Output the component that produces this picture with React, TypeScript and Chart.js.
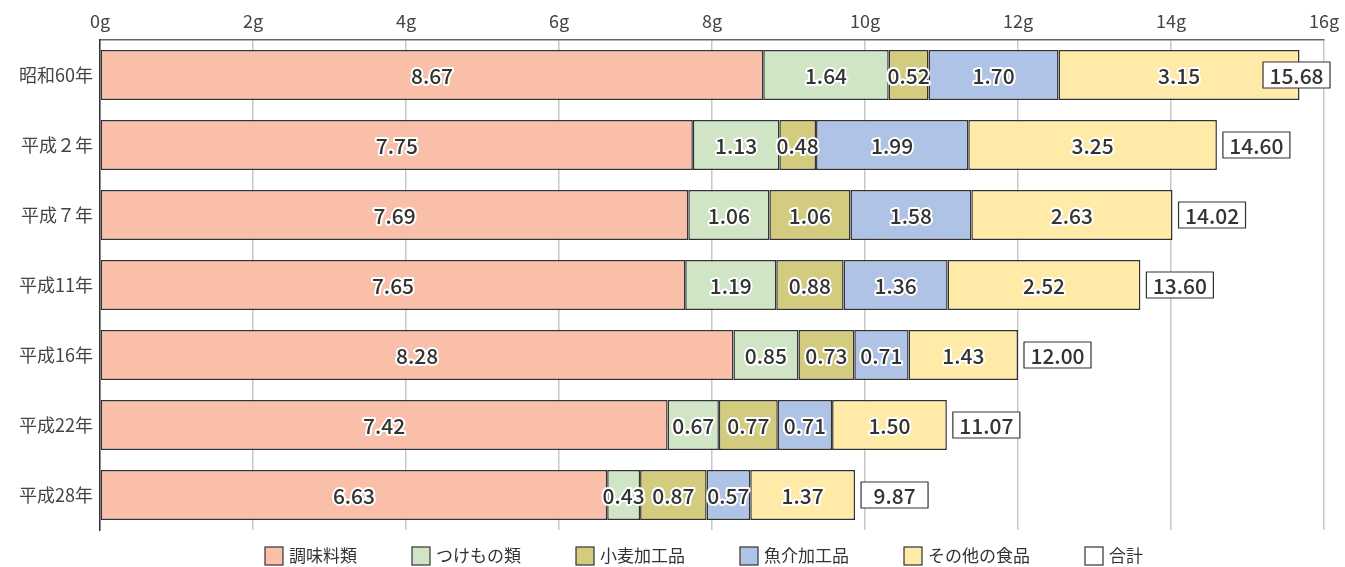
import React, { useEffect, useRef } from "react";
import { Chart, registerables } from "chart.js";

Chart.register(...registerables);

const categories = ["昭和60年", "平成２年", "平成７年", "平成11年", "平成16年", "平成22年", "平成28年"];
const seriesNames = ["調味料類", "つけもの類", "小麦加工品", "魚介加工品", "その他の食品"];
const seasoning = [8.67, 7.75, 7.69, 7.65, 8.28, 7.42, 6.63];
const pickles = [1.64, 1.13, 1.06, 1.19, 0.85, 0.67, 0.43];
const wheat = [0.52, 0.48, 1.06, 0.88, 0.73, 0.77, 0.87];
const seafood = [1.7, 1.99, 1.58, 1.36, 0.71, 0.71, 0.57];
const others = [3.15, 3.25, 2.63, 2.52, 1.43, 1.5, 1.37];
const totals = [15.68, 14.6, 14.02, 13.6, 12.0, 11.07, 9.87];
const totalName = "合計";
const xTicks = [0, 2, 4, 6, 8, 10, 12, 14, 16];

const colors = ["#F9BFA8", "#CFE5C5", "#D3CC7F", "#AEC3E5", "#FFEAA8"];
const FONT = "'Noto Sans CJK JP', 'Noto Sans', sans-serif";
const TEXT = "#333333";

const labelPlugin = {
  id: "valueLabels",
  afterDatasetsDraw(chart: any) {
    const ctx = chart.ctx;
    ctx.save();
    ctx.font = `500 21px ${FONT}`;
    ctx.textAlign = "center";
    ctx.textBaseline = "middle";
    ctx.lineJoin = "round";
    chart.data.datasets.forEach((ds: any, di: number) => {
      const meta = chart.getDatasetMeta(di);
      meta.data.forEach((bar: any, i: number) => {
        const v = ds.data[i];
        if (v == null) return;
        const p = bar.getProps(["x", "y", "base"], true);
        const cx = (p.x + p.base) / 2;
        const txt = Number(v).toFixed(2);
        ctx.lineWidth = 4;
        ctx.strokeStyle = "#ffffff";
        ctx.strokeText(txt, cx, p.y + 1);
        ctx.fillStyle = TEXT;
        ctx.fillText(txt, cx, p.y + 1);
      });
    });
    // totals
    const xs = chart.scales.x;
    const ys = chart.scales.y;
    totals.forEach((t, i) => {
      const txt = t.toFixed(2);
      const w = 67;
      const h = 26;
      let left = xs.getPixelForValue(t) + 6;
      if (left + w > chart.width - 15) left = chart.width - 15 - w;
      const cy = ys.getPixelForValue(i);
      ctx.fillStyle = "#ffffff";
      ctx.fillRect(left, cy - h / 2, w, h);
      ctx.lineWidth = 1.2;
      ctx.strokeStyle = "#333333";
      ctx.strokeRect(left, cy - h / 2, w, h);
      ctx.fillStyle = TEXT;
      ctx.textAlign = "center";
      ctx.fillText(txt, left + w / 2, cy + 1);
    });
    ctx.restore();
  },
  afterDraw(chart: any) {
    const ctx = chart.ctx;
    ctx.save();
    ctx.font = `17px ${FONT}`;
    ctx.textBaseline = "middle";
    ctx.textAlign = "left";
    const items = seriesNames.map((n, i) => ({ text: n, color: colors[i] }));
    items.push({ text: totalName, color: "#ffffff" });
    const box = 18;
    const gap = 6;
    const spacing = 55;
    const widths = items.map((it) => box + gap + ctx.measureText(it.text).width);
    const total = widths.reduce((a, b) => a + b, 0) + spacing * (items.length - 1);
    let x = 704 - total / 2;
    const cy = 556;
    items.forEach((it, i) => {
      ctx.fillStyle = it.color;
      ctx.fillRect(x, cy - box / 2, box, box);
      ctx.lineWidth = 1.2;
      ctx.strokeStyle = "#333333";
      ctx.strokeRect(x, cy - box / 2, box, box);
      ctx.fillStyle = TEXT;
      ctx.fillText(it.text, x + box + gap, cy);
      x += widths[i] + spacing;
    });
    ctx.restore();
  },
};

export default function App() {
  const ref = useRef<HTMLCanvasElement>(null);
  useEffect(() => {
    document.body.style.margin = "0";
    const seriesData = [seasoning, pickles, wheat, seafood, others];
    const chart = new Chart(ref.current as HTMLCanvasElement, {
      type: "bar",
      data: {
        labels: categories,
        datasets: seriesData.map((d, i) => ({
          label: seriesNames[i],
          data: d,
          backgroundColor: colors[i],
          borderColor: "#333333",
          borderWidth: 1.5,
          borderSkipped: false,
          barPercentage: 0.715,
          categoryPercentage: 1,
        })),
      },
      options: {
        indexAxis: "y",
        responsive: false,
        animation: false,
        layout: { padding: { left: 0, right: 21, top: 0, bottom: 37 } },
        plugins: { legend: { display: false }, tooltip: { enabled: false } },
        scales: {
          x: {
            position: "top",
            stacked: true,
            min: 0,
            max: 16,
            afterBuildTicks(scale: any) {
              scale.ticks = xTicks.map((v) => ({ value: v }));
            },
            afterFit(scale: any) {
              scale.height = 40;
              scale.paddingLeft = 0;
              scale.paddingRight = 0;
            },
            grid: { color: "#c8c8c8", lineWidth: 1.5, drawTicks: false },
            border: { display: true, color: "#666666", width: 1.5 },
            ticks: {
              padding: 8,
              color: "#444444",
              font: { family: FONT, size: 18 },
              callback: (v: any) => `${v}g`,
            },
          },
          y: {
            stacked: true,
            afterFit(scale: any) {
              scale.width = 100;
              scale.paddingTop = 0;
              scale.paddingBottom = 0;
            },
            grid: { display: false, drawTicks: false },
            border: { display: true, color: "#333333", width: 1.5 },
            ticks: {
              padding: 7,
              color: "#444444",
              font: { family: FONT, size: 18 },
            },
          },
        },
      },
      plugins: [labelPlugin],
    } as any);
    return () => chart.destroy();
  }, []);
  return <canvas ref={ref} width={1345} height={567} style={{ display: "block" }} />;
}
